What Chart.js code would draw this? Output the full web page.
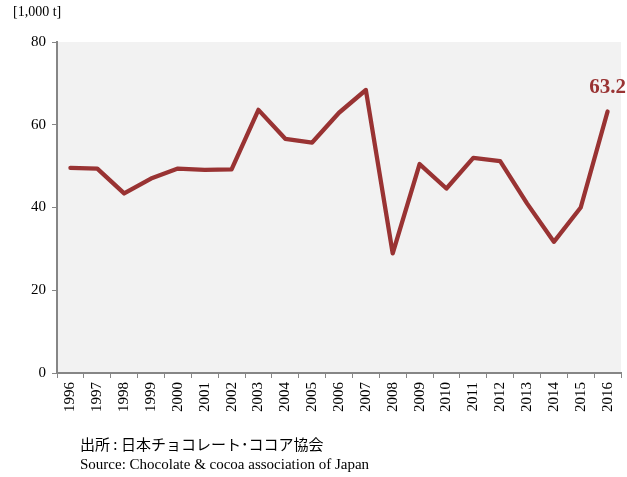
<!DOCTYPE html>
<html>
<head>
<meta charset="utf-8">
<script src="https://cdn.jsdelivr.net/npm/chart.js@4"></script>
<style>
  html, body { margin: 0; padding: 0; background: #fff; }
  #wrap { position: relative; width: 627px; height: 477px; }
  .note { position: absolute; left: 80px; color: #000; white-space: nowrap; }
  #unit { left: 13px; top: 4px; font: 14px "Liberation Serif", serif; }
  #srcJa { top: 433px; font: 15px "Noto Sans CJK JP", sans-serif; }
  #srcEn { top: 456px; font: 15px "Liberation Serif", serif; }
</style>
</head>
<body>
<div id="wrap">
  <canvas id="importChart" width="627" height="477"></canvas>
  <div class="note" id="unit">[1,000 t]</div>
  <div class="note" id="srcJa">出所 : 日本チョコレート･ココア協会</div>
  <div class="note" id="srcEn">Source: Chocolate &amp; cocoa association of Japan</div>
</div>
<script>
// yearly volumes, thousand tonnes
const years = ['1996', '1997', '1998', '1999', '2000', '2001', '2002', '2003', '2004', '2005', '2006',
  '2007', '2008', '2009', '2010', '2011', '2012', '2013', '2014', '2015', '2016'];
const volumes = [49.6, 49.4, 43.4, 47.0, 49.4, 49.1, 49.2, 63.6, 56.6, 55.7, 62.9,
  68.4, 28.9, 50.5, 44.6, 52.0, 51.2, 41.0, 31.7, 40.0, 63.2];
const yTicks = [0, 20, 40, 60, 80];

const LINE_RED = '#993333';
const AXIS_GREY = '#868686';
const SERIF = '"Liberation Serif", "Times New Roman", serif';

// grey plot background
const plotBg = {
  id: 'plotBg',
  beforeDraw(chart) {
    const { ctx, chartArea: a } = chart;
    ctx.save();
    ctx.fillStyle = '#f2f2f2';
    ctx.fillRect(a.left, a.top, a.right - a.left, a.bottom - a.top);
    ctx.restore();
  }
};

// value label over the latest year
const lastLabel = {
  id: 'lastLabel',
  afterDatasetsDraw(chart) {
    const meta = chart.getDatasetMeta(0);
    const i = volumes.length - 1;
    const pt = meta.data[i];
    const ctx = chart.ctx;
    ctx.save();
    ctx.font = 'bold 21px ' + SERIF;
    ctx.fillStyle = LINE_RED;
    ctx.textAlign = 'center';
    ctx.textBaseline = 'alphabetic';
    ctx.fillText(volumes[i].toFixed(1), pt.x, pt.y - 19);
    ctx.restore();
  }
};

new Chart(document.getElementById('importChart'), {
  type: 'line',
  data: {
    labels: years,
    datasets: [{
      data: volumes,
      borderColor: LINE_RED,
      borderWidth: 4.3,
      pointRadius: 0,
      tension: 0,
      borderJoinStyle: 'round',
      borderCapStyle: 'round'
    }]
  },
  options: {
    responsive: false,
    animation: false,
    events: [],
    layout: { padding: { top: 42, right: 6, left: 0, bottom: 0 } },
    plugins: { legend: { display: false }, tooltip: { enabled: false } },
    scales: {
      x: {
        offset: true,
        grid: { display: true, drawOnChartArea: false, drawTicks: true, tickLength: 5, offset: true, color: AXIS_GREY },
        border: { display: true, color: AXIS_GREY, width: 2 },
        ticks: {
          color: '#000',
          font: { family: SERIF, size: 15 },
          minRotation: 90,
          maxRotation: 90,
          autoSkip: false,
          padding: 4
        },
        afterFit(scale) {
          scale.height = 104;
          scale.paddingLeft = 0;
          scale.paddingRight = 0;
        }
      },
      y: {
        min: 0,
        max: 80,
        afterBuildTicks(scale) { scale.ticks = yTicks.map(v => ({ value: v })); },
        grid: { display: true, drawOnChartArea: false, drawTicks: true, tickLength: 5, color: AXIS_GREY },
        border: { display: true, color: AXIS_GREY, width: 2 },
        ticks: {
          color: '#000',
          font: { family: SERIF, size: 15 },
          padding: 6
        },
        afterFit(scale) { scale.width = 57; }
      }
    }
  },
  plugins: [plotBg, lastLabel]
});
</script>
</body>
</html>
